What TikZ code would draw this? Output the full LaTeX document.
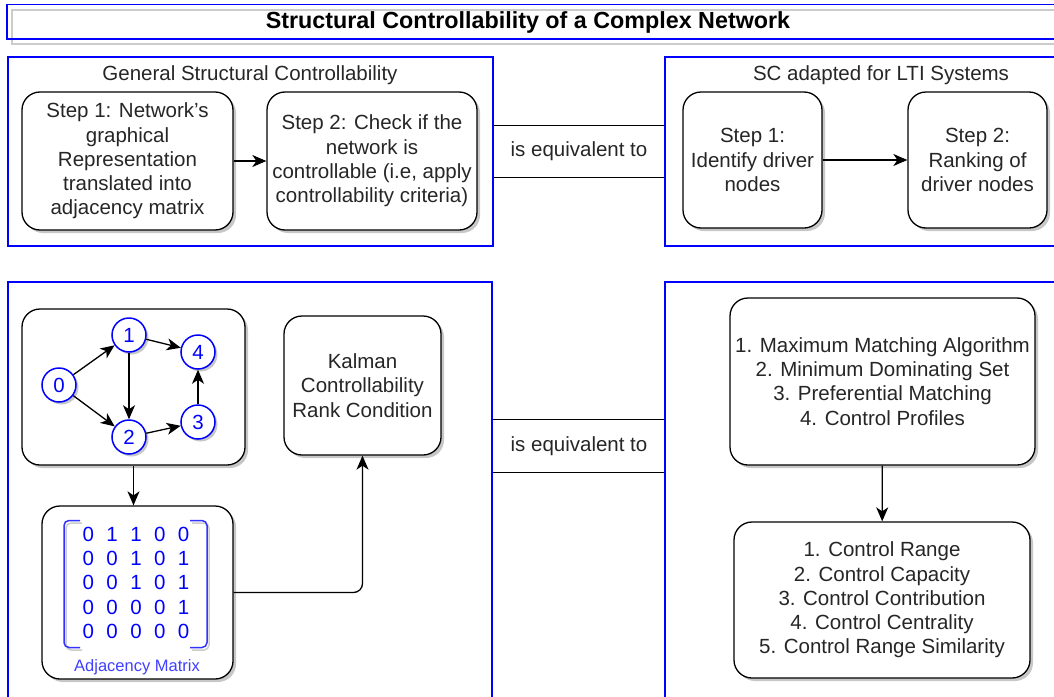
\documentclass[tikz,border=0pt]{standalone}
\usepackage{fontspec}
\setmainfont{Liberation Sans}
\usetikzlibrary{arrows.meta,shadows}

\begin{document}
\begin{tikzpicture}[x=1pt,y=-1pt,
    every node/.style={font=\fontsize{20.5}{24.3}\selectfont, text=black!85},
    panel/.style={draw=blue, line width=1.5pt},
    stepbox/.style={draw, line width=1.3pt, rounded corners=18pt, fill=white, align=center, inner sep=1pt,
        drop shadow={shadow xshift=3pt, shadow yshift=-3pt, opacity=1, fill=black!22}},
    gnode/.style={circle, draw=blue, line width=1.5pt, fill=white, text=blue, minimum size=34pt, inner sep=0pt,
        drop shadow={shadow xshift=2.5pt, shadow yshift=-2.5pt, opacity=1, fill=black!22}},
    equiv/.style={minimum width=172pt, minimum height=52pt},
    arr/.style={-{Stealth[length=14pt,width=12pt,inset=4pt]}, line width=1.3pt}]
    \useasboundingbox (0,0) rectangle (1054,696);
    \clip (0,0) rectangle (1054,696);

    % title
    \draw[black!20, line width=1.5pt] (12,10) rectangle (1070,44);
    \draw[blue, line width=1.5pt] (7,4.5) rectangle (1065,39);
    \node[font=\fontsize{23.3}{27}\selectfont\bfseries, text=black] (title) at (528,22.5) {Structural Controllability of a Complex Network};

    % equivalence bars
    \node[equiv] (eqtop) at (579,151.5) {is equivalent to};
    \node[equiv] (eqbot) at (579,446) {is equivalent to};
    \draw[line width=1.3pt] (eqtop.north west) -- (eqtop.north east) (eqtop.south west) -- (eqtop.south east);
    \draw[line width=1.3pt] (eqbot.north west) -- (eqbot.north east) (eqbot.south west) -- (eqbot.south east);

    % panels
    \draw[panel] (8,57) rectangle (493,246);
    \draw[panel] (665,57) rectangle (1100,246);
    \draw[panel] (8,282) rectangle (492,720);
    \draw[panel] (665,282) rectangle (1100,720);
    \node (gentitle) at (250,75) {General Structural Controllability};
    \node (ltititle) at (881,75) {SC adapted for LTI Systems};

    % top row
    \node[stepbox, minimum width=211pt, minimum height=138pt] (gen1) at (127.5,161)
        {Step 1: Network{\char"0027}s\\graphical\\Representation\\translated into\\adjacency matrix};
    \node[stepbox, minimum width=210pt, minimum height=138pt] (gen2) at (372,161)
        {Step 2: Check if the\\network is\\controllable (i.e, apply\\controllability criteria)};
    \node[stepbox, minimum width=139pt, minimum height=136pt] (lti1) at (752.5,160)
        {Step 1:\\Identify driver\\nodes};
    \node[stepbox, minimum width=139pt, minimum height=136pt] (lti2) at (977.5,160)
        {Step 2:\\Ranking of\\driver nodes};
    \draw[arr] (gen1) -- (gen2);
    \draw[arr] (lti1) -- (lti2);

    % bottom left: graph, matrix, Kalman
    \node[stepbox, minimum width=223pt, minimum height=156pt] (graph) at (133.5,387) {};
    \node[gnode] (n0) at (59,385) {0};
    \node[gnode] (n1) at (129,335) {1};
    \node[gnode] (n2) at (129,437) {2};
    \node[gnode] (n3) at (198,422) {3};
    \node[gnode] (n4) at (198,352) {4};
    \draw[arr] (n0) -- (n1);
    \draw[arr] (n0) -- (n2);
    \draw[arr] (n1) -- (n2);
    \draw[arr] (n1) -- (n4);
    \draw[arr] (n2) -- (n3);
    \draw[arr] (n3) -- (n4);

    \node[stepbox, minimum width=191pt, minimum height=173pt] (adj) at (137.5,592.5) {};
    \node[text=blue, inner sep=0pt] (mat) at (136,585) {%
        \setlength{\tabcolsep}{6.2pt}\begin{tabular}{@{}ccccc@{}}
        0&1&1&0&0\\ 0&0&1&0&1\\ 0&0&1&0&1\\ 0&0&0&0&1\\ 0&0&0&0&0
        \end{tabular}};
    \draw[black!20, line width=1.5pt, rounded corners=5pt] (82,523) -- (66,523) -- (66,650) -- (82,650);
    \draw[black!20, line width=1.5pt, rounded corners=5pt] (192,523) -- (209,523) -- (209,650) -- (192,650);
    \draw[blue!80, line width=1.5pt, rounded corners=5pt] (80,520.5) -- (64,520.5) -- (64,647.5) -- (80,647.5);
    \draw[blue!80, line width=1.5pt, rounded corners=5pt] (190,520.5) -- (207,520.5) -- (207,647.5) -- (190,647.5);
    \node[text=blue!75, font=\fontsize{16.5}{19}\selectfont] (adjlabel) at (137,667) {Adjacency Matrix};

    \node[stepbox, minimum width=157pt, minimum height=139pt] (kalman) at (362.5,385.5)
        {Kalman\\Controllability\\Rank Condition};
    \draw[arr] (graph) -- (graph.south |- adj.north);
    \draw[arr, rounded corners=9pt] (adj.east) -| (kalman.south);

    % bottom right
    \node[stepbox, minimum width=305pt, minimum height=167pt] (algo) at (882.5,381.5)
        {1. Maximum Matching Algorithm\\2. Minimum Dominating Set\\3. Preferential Matching\\4. Control Profiles};
    \node[stepbox, minimum width=296pt, minimum height=156pt] (rank) at (882,600)
        {1. Control Range\\2. Control Capacity\\3. Control Contribution\\4. Control Centrality\\5. Control Range Similarity};
    \draw[arr] (algo) -- (rank);
\end{tikzpicture}
\end{document}
